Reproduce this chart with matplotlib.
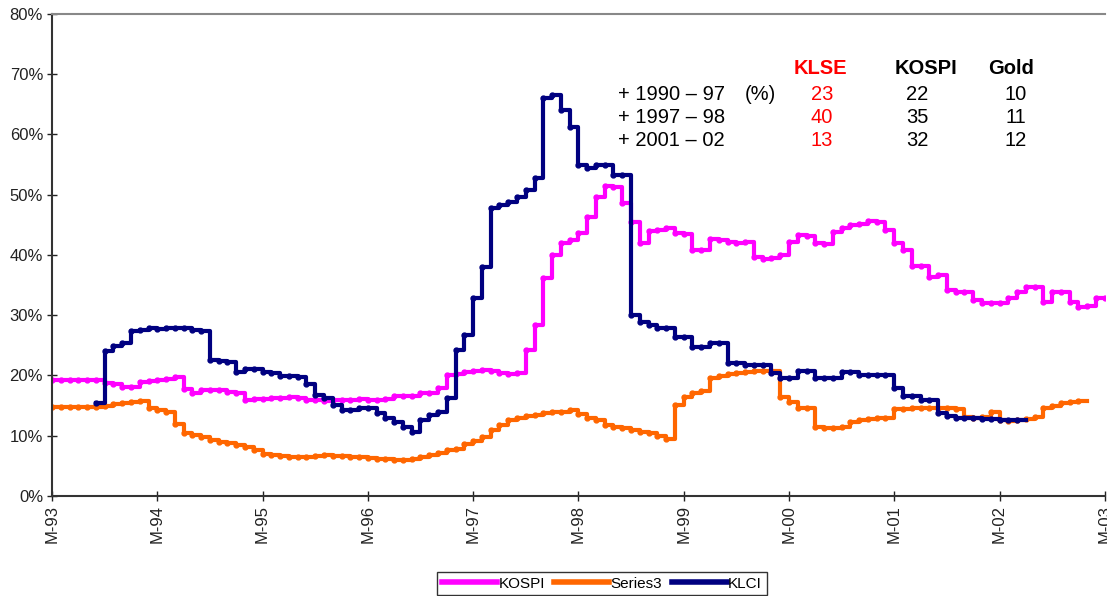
import numpy as np
import matplotlib
matplotlib.use("Agg")
from matplotlib import pyplot as plt

nan = np.nan

# monthly points, month 0 = March 1993
months = np.arange(121)
tick_labels = ["M-93", "M-94", "M-95", "M-96", "M-97", "M-98",
               "M-99", "M-00", "M-01", "M-02", "M-03"]

kospi = [
    19.2, 19.2, 19.2, 19.2, 19.2, 19.2, 18.7, 18.6, 18.1, 18.0, 18.9, 19.1,
    19.3, 19.4, 19.8, 17.8, 17.1, 17.5, 17.6, 17.6, 17.3, 17.1, 15.9, 16.0,
    16.0, 16.3, 16.2, 16.4, 16.2, 15.9, 15.9, 15.8, 15.9, 15.9, 15.9, 16.0,
    15.9, 15.9, 16.1, 16.5, 16.5, 16.6, 17.1, 17.1, 17.9, 20.1, 20.3, 20.6,
    20.8, 20.9, 20.7, 20.4, 20.3, 20.4, 24.2, 28.4, 36.2, 40.0, 42.0, 42.5,
    43.6, 46.3, 49.6, 51.5, 51.2, 48.6, 45.5, 42.0, 43.9, 44.2, 44.5, 43.6,
    43.4, 40.8, 40.8, 42.6, 42.4, 42.1, 42.0, 42.1, 39.7, 39.3, 39.5, 40.0,
    42.2, 43.3, 43.1, 42.0, 41.8, 43.8, 44.5, 45.0, 45.2, 45.6, 45.4, 44.1,
    42.0, 40.8, 38.1, 38.1, 36.4, 36.7, 34.2, 33.9, 33.9, 32.5, 32.1, 32.1,
    32.1, 32.8, 33.9, 34.7, 34.7, 32.2, 33.9, 33.9, 32.2, 31.4, 31.6, 32.8,
    32.8,
]

series3 = [
    14.7, 14.7, 14.7, 14.7, 14.7, 14.7, 15.0, 15.2, 15.5, 15.6, 15.7, 14.6,
    14.2, 14.0, 11.9, 10.4, 10.1, 9.8, 9.3, 9.0, 8.7, 8.4, 8.1, 7.6,
    7.0, 6.8, 6.7, 6.5, 6.4, 6.5, 6.7, 6.8, 6.7, 6.6, 6.5, 6.4,
    6.3, 6.2, 6.1, 6.0, 6.0, 6.1, 6.5, 6.8, 7.1, 7.6, 7.8, 8.6,
    9.1, 9.8, 11.0, 11.8, 12.6, 13.0, 13.2, 13.4, 13.8, 14.0, 13.9, 14.2,
    13.6, 12.9, 12.6, 11.8, 11.5, 11.3, 11.0, 10.6, 10.4, 10.0, 9.4, 15.1,
    16.4, 17.1, 17.4, 19.6, 19.9, 20.3, 20.4, 20.5, 20.7, 20.8, 20.7, 16.4,
    15.6, 14.6, 14.6, 11.5, 11.2, 11.3, 11.5, 12.3, 12.6, 12.7, 12.9, 13.0,
    14.4, 14.5, 14.6, 14.6, 14.6, 14.6, 14.6, 14.5, 13.1, 13.0, 13.1, 14.0,
    12.6, 12.5, 12.6, 12.8, 13.1, 14.6, 14.9, 15.5, 15.6, 15.7, nan, nan,
    nan,
]

klci = [
    nan, nan, nan, nan, nan, 15.5, 24.0, 24.8, 25.3, 27.3, 27.6, 27.8,
    27.7, 27.8, 27.8, 27.8, 27.5, 27.4, 22.6, 22.4, 22.3, 20.6, 21.0, 21.0,
    20.6, 20.4, 19.9, 19.9, 19.8, 18.6, 16.8, 16.3, 15.1, 14.3, 14.3, 14.6,
    14.6, 13.8, 12.9, 12.3, 11.5, 10.6, 12.6, 13.4, 14.0, 16.3, 24.2, 26.7,
    32.8, 38.0, 47.8, 48.3, 48.8, 49.6, 50.8, 52.8, 66.0, 66.6, 64.0, 61.3,
    55.0, 54.4, 55.0, 55.0, 53.3, 53.3, 30.0, 28.9, 28.3, 27.9, 27.9, 26.4,
    26.4, 24.7, 24.7, 25.4, 25.4, 22.1, 22.1, 21.7, 21.7, 21.7, 20.4, 19.6,
    19.6, 20.8, 20.8, 19.6, 19.6, 19.6, 20.6, 20.6, 20.1, 20.1, 20.1, 20.1,
    17.9, 16.5, 16.5, 15.9, 15.9, 13.7, 13.2, 12.9, 12.9, 12.9, 12.8, 12.7,
    12.6, 12.6, 12.6, nan, nan, nan, nan, nan, nan, nan, nan, nan,
    nan,
]

# table in the top right
row_labels = ["+ 1990 \u2013 97", "+ 1997 \u2013 98", "+ 2001 \u2013 02"]
klse_vals = ["23", "40", "13"]
kospi_vals = ["22", "35", "32"]
gold_vals = ["10", "11", "12"]

plt.rcParams['font.family'] = ['Liberation Sans', 'DejaVu Sans']

fig = plt.figure(figsize=(11.07, 5.96), dpi=100)
ax = fig.add_axes([0.047, 0.168, 0.951, 0.8085])

ax.plot(months, kospi, color='#FF00FF', lw=3, drawstyle='steps-post',
        marker='o', ms=3.5, label='KOSPI')
ax.plot(months, series3, color='#FF6600', lw=3, drawstyle='steps-post',
        marker='o', ms=3.5, label='Series3')
ax.plot(months, klci, color='#000080', lw=3, drawstyle='steps-post',
        marker='o', ms=3.5, label='KLCI')

ax.set_xlim(0, 120)
ax.set_ylim(0, 80)
ax.set_xticks(np.arange(0, 121, 12))
ax.set_xticklabels(tick_labels, rotation=90, fontsize=12)
ax.set_yticks(np.arange(0, 81, 10))
ax.set_yticklabels(["%d%%" % v for v in range(0, 81, 10)], fontsize=12)
ax.tick_params(direction='inout', length=7, width=1, colors='#222222', pad=3)

ax.spines['right'].set_visible(False)
ax.spines['top'].set_color('#888888')
ax.spines['top'].set_linewidth(1.5)
ax.spines['left'].set_color('#333333')
ax.spines['left'].set_linewidth(1.5)
ax.spines['bottom'].set_color('#333333')
ax.spines['bottom'].set_linewidth(1.5)

# text block
W, H = 1107.0, 596.0
fs = 14.5
fig.text(820 / W, 1 - 69 / H, "KLSE", color='#FF0000', fontsize=fs,
         fontweight='bold', ha='center', va='center')
fig.text(926 / W, 1 - 69 / H, "KOSPI", color='black', fontsize=fs,
         fontweight='bold', ha='center', va='center')
fig.text(1011 / W, 1 - 69 / H, "Gold", color='black', fontsize=fs,
         fontweight='bold', ha='center', va='center')
fig.text(745 / W, 1 - 95 / H, "(%)", fontsize=fs, ha='left', va='center')
for i in range(3):
    yy = 1 - (95 + 22.5 * i) / H
    fig.text(618 / W, yy, row_labels[i], fontsize=fs, ha='left', va='center')
    fig.text(822 / W, yy, klse_vals[i], color='#FF0000', fontsize=fs,
             ha='center', va='center')
    fig.text(917 / W, yy, kospi_vals[i], fontsize=fs, ha='center', va='center')
    fig.text(1016 / W, yy, gold_vals[i], fontsize=fs, ha='center', va='center')

leg = fig.legend(loc='upper center', bbox_to_anchor=(602 / W, 1 - 572 / H),
                 ncol=3, fontsize=11, frameon=True, fancybox=False,
                 handlelength=3.6, handletextpad=0.1, columnspacing=0.6,
                 borderpad=0.3, borderaxespad=0, markerscale=0)
leg.get_frame().set_edgecolor('black')
leg.get_frame().set_linewidth(1)
for h in leg.get_lines():
    h.set_marker('')
    h.set_linewidth(4)

fig.savefig("out.png", dpi=100)
